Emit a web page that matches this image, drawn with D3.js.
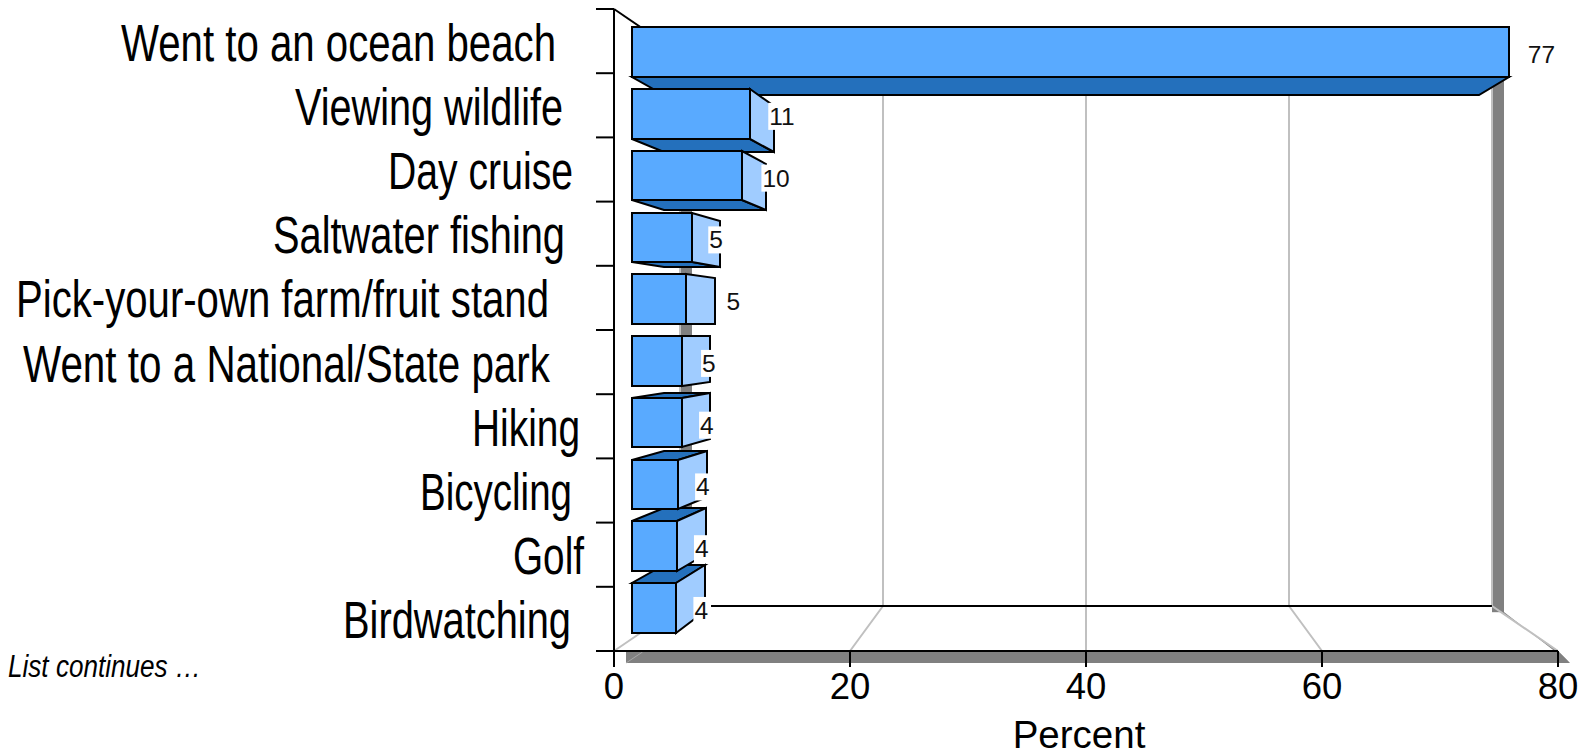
<!DOCTYPE html>
<html>
<head>
<meta charset="utf-8">
<script src="https://cdn.jsdelivr.net/npm/d3@7"></script>
<style>
  html, body { margin: 0; padding: 0; background: #fff; }
  svg { display: block; }
  text { font-family: "Liberation Sans", Arial, sans-serif; fill: #000; }
</style>
</head>
<body>
<div id="chart"></div>
<script>
// --- data ---
const categories = [
  "Went to an ocean beach", "Viewing wildlife", "Day cruise", "Saltwater fishing",
  "Pick-your-own farm/fruit stand", "Went to a National/State park",
  "Hiking", "Bicycling", "Golf", "Birdwatching"
];
const percents = [77.3, 10.4, 9.7, 5.3, 4.8, 4.4, 4.4, 4.05, 3.95, 3.9];
const valueLabels = ["77", "11", "10", "5", "5", "5", "4", "4", "4", "4"];
const xTicks = [0, 20, 40, 60, 80];

// --- sizing ---
const W = 1583, H = 753;
const plot = { left: 614, right: 1558, top: 9, bottom: 651 };

// 3D look: everything recedes towards one vanishing point
const vp = { x: 1086, y: 331 };
const depth = { axis: 1, barFront: 0.962, barBack: 0.894, wall: 0.86 };
const shadow = 12;

// label tweaks (left edge, ink width of each category)
const catLeft  = [121, 295, 388, 273, 16, 23, 472, 420, 513, 343];
const catWidth = [435, 268, 185, 292, 533, 527, 108, 152, 71, 228];
const valueDx  = [32, 32, 34, 24, 47, 27, 25, 25, 25, 25];

const colors = { front: "#59aaff", side: "#a0ccff", dark: "#2470bc", grid: "#c0c0c0", shade: "#808080" };

const svg = d3.select("#chart").append("svg")
  .attr("width", W)
  .attr("height", H);

// --- scales ---
const x = d3.scaleLinear().domain([0, 80]).range([plot.left, plot.right]);
const y = d3.scaleBand().domain(categories)
  .range([plot.top, plot.bottom])
  .paddingInner(0.2)
  .paddingOuter(0.1);
const yEdge = d3.scaleLinear().domain([0, categories.length]).range([plot.top, plot.bottom]);

// project a front-plane point to a given depth
const px = (v, s) => vp.x + s * (x(v) - vp.x);
const py = (yy, s) => vp.y + s * (yy - vp.y);
// whole pixels keep the 2px outlines crisp
const poly = pts => pts.map(p => p.map(Math.round).join(",")).join(" ");

// --- shadows ---
const wallTop = py(plot.top, depth.wall), wallBottom = py(plot.bottom, depth.wall);
const shade = svg.append("g").attr("fill", colors.shade);

shade.selectAll("rect.wall")
  .data([0, 80])
  .enter().append("rect")
  .attr("class", "wall")
  .attr("x", d => Math.round(px(d, depth.wall)))
  .attr("y", wallTop)
  .attr("width", shadow)
  .attr("height", d => wallBottom - wallTop + (d ? 6 : 0));

shade.append("polygon").attr("points", poly([
  [x(0) + shadow, plot.bottom],
  [x(80), plot.bottom],
  [x(80) + shadow, plot.bottom + shadow],
  [x(0) + shadow, plot.bottom + shadow]
]));
shade.append("polygon").attr("points", poly([
  [px(80, depth.wall), wallBottom],
  [px(80, depth.wall) + shadow, wallBottom + 6],
  [x(80) + shadow, plot.bottom + shadow],
  [x(80), plot.bottom]
]));

// shadow of the left floor line, just the bit that shows on the strip
svg.append("line")
  .attr("x1", x(0) + shadow)
  .attr("y1", plot.bottom + shadow)
  .attr("x2", x(0) + shadow + (px(0, depth.wall) - x(0)) * 0.25)
  .attr("y2", plot.bottom + 1)
  .attr("stroke", "#a8a8a8")
  .attr("stroke-width", 1);

// --- grid on back wall and floor ---
const grid = svg.append("g")
  .attr("fill", "none")
  .attr("stroke", colors.grid)
  .attr("stroke-width", 2);

grid.selectAll("polyline")
  .data(xTicks)
  .enter().append("polyline")
  .attr("points", d => poly([
    [px(d, depth.wall), wallTop],
    [px(d, depth.wall), wallBottom],
    [x(d), plot.bottom]
  ]));

// back wall floor edge and the top edge of the side wall
svg.append("line")
  .attr("x1", px(0, depth.wall))
  .attr("x2", px(80, depth.wall))
  .attr("y1", Math.round(wallBottom))
  .attr("y2", Math.round(wallBottom))
  .attr("stroke", "#000")
  .attr("stroke-width", 2);

svg.append("line")
  .attr("x1", x(0))
  .attr("y1", plot.top)
  .attr("x2", px(0, depth.wall))
  .attr("y2", wallTop)
  .attr("stroke", "#000")
  .attr("stroke-width", 2);

// --- axes ---
const xAxis = svg.append("g")
  .attr("transform", `translate(0,${plot.bottom})`)
  .call(d3.axisBottom(x).tickValues(xTicks).tickSize(16).tickSizeOuter(0).tickPadding(6).offset(0));

const yAxis = svg.append("g")
  .attr("transform", `translate(${plot.left},0)`)
  .call(d3.axisLeft(yEdge).ticks(categories.length).tickSize(18).tickSizeOuter(0).tickFormat("").offset(0));

svg.selectAll(".domain, .tick line")
  .attr("stroke", "#000")
  .attr("stroke-width", 2);

xAxis.selectAll("text")
  .style("font-size", "36.5px")
  .style("font-family", '"Liberation Sans", Arial, sans-serif')
  .attr("fill", "#000");

// --- bars ---
const rows = categories.map((name, i) => ({ name, i, value: percents[i], label: valueLabels[i] }));

// nearest the horizon goes last, so it overlaps its neighbours' top/bottom faces
const order = rows.slice().sort((a, b) =>
  d3.descending(Math.abs(y(a.name) + y.bandwidth() / 2 - vp.y), Math.abs(y(b.name) + y.bandwidth() / 2 - vp.y)));

const faceAttrs = sel => sel
  .attr("stroke", "#000")
  .attr("stroke-width", 2)
  .attr("stroke-linejoin", "miter");

const bars = svg.selectAll(".bar")
  .data(order)
  .enter().append("g")
  .attr("class", "bar");

bars.each(function (d) {
  const g = d3.select(this);
  const top = y(d.name), bot = top + y.bandwidth();
  const f = depth.barFront, b = depth.barBack;

  if (py(bot, f) < vp.y) {
    g.append("polygon").attr("fill", colors.dark).call(faceAttrs).attr("points", poly([
      [px(0, f), py(bot, f)], [px(d.value, f), py(bot, f)],
      [px(d.value, b), py(bot, b)], [px(0, b), py(bot, b)]
    ]));
  }
  if (py(top, f) > vp.y) {
    g.append("polygon").attr("fill", colors.dark).call(faceAttrs).attr("points", poly([
      [px(0, f), py(top, f)], [px(d.value, f), py(top, f)],
      [px(d.value, b), py(top, b)], [px(0, b), py(top, b)]
    ]));
  }
  if (px(d.value, f) < vp.x) {
    g.append("polygon").attr("fill", colors.side).call(faceAttrs).attr("points", poly([
      [px(d.value, f), py(top, f)], [px(d.value, b), py(top, b)],
      [px(d.value, b), py(bot, b)], [px(d.value, f), py(bot, f)]
    ]));
  }
  g.append("polygon").attr("fill", colors.front).call(faceAttrs).attr("points", poly([
    [px(0, f), py(top, f)], [px(d.value, f), py(top, f)],
    [px(d.value, f), py(bot, f)], [px(0, f), py(bot, f)]
  ]));
});

// --- value labels, white box behind the text ---
const valueG = svg.selectAll(".value")
  .data(rows)
  .enter().append("g")
  .attr("class", "value");

valueG.append("text")
  .attr("x", d => px(d.value, depth.barFront) + valueDx[d.i])
  .attr("y", d => py(y(d.name) + y.bandwidth() / 2, depth.barFront) + 11)
  .attr("text-anchor", "middle")
  .style("font-size", "24.5px")
  .style("fill", "#111")
  .text(d => d.label);

valueG.insert("rect", "text")
  .each(function () {
    const box = this.parentNode.querySelector("text").getBBox();
    d3.select(this)
      .attr("x", box.x - 1)
      .attr("y", box.y)
      .attr("width", box.width + 4)
      .attr("height", box.height)
      .attr("fill", "#fff");
  });

// --- category labels, squeezed like the original ---
svg.selectAll(".cat")
  .data(rows)
  .enter().append("text")
  .attr("class", "cat")
  .attr("x", d => catLeft[d.i])
  .attr("y", d => yEdge(d.i + 0.5) + 19.5)
  .attr("textLength", d => catWidth[d.i])
  .attr("lengthAdjust", "spacingAndGlyphs")
  .style("font-size", "51px")
  .text(d => d.name);

// --- notes ---
svg.append("text")
  .attr("x", 8)
  .attr("y", 677)
  .attr("textLength", 193)
  .attr("lengthAdjust", "spacingAndGlyphs")
  .style("font-size", "31px")
  .style("font-style", "italic")
  .text("List continues …");

svg.append("text")
  .attr("x", 1079)
  .attr("y", 748)
  .attr("text-anchor", "middle")
  .style("font-size", "38.5px")
  .text("Percent");
</script>
</body>
</html>
